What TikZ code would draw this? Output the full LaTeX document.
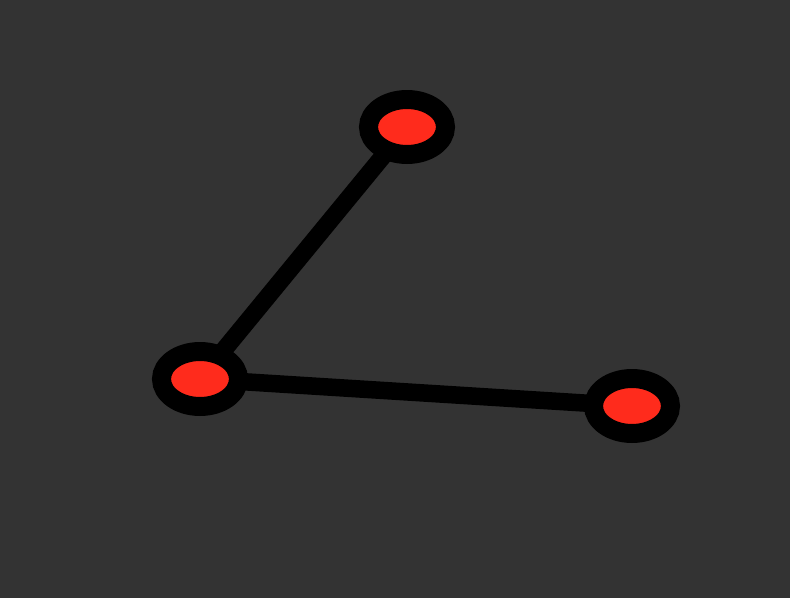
\documentclass[tikz,border=0pt]{standalone}
\usetikzlibrary{shapes.geometric, backgrounds}
\definecolor{zbg}{RGB}{51, 51, 51}
\definecolor{zdot}{RGB}{255, 43, 28}
\pgfdeclarelayer{canvas}
\pgfsetlayers{canvas,background,main}

\begin{document}
\begin{tikzpicture}[
  x=0.02cm, y=-0.02cm,
  dotnode/.style={ellipse, draw=black, fill=zdot, line width=0.38cm,
                  minimum width=1.54cm, minimum height=1.1cm, inner sep=0pt},
  link/.style={draw=black, line width=0.35cm}
]

% Background and frame
\begin{pgfonlayer}{canvas}
  \fill[zbg] (0,0) rectangle (790,598);
\end{pgfonlayer}
\useasboundingbox (0,0) rectangle (790,598);

% Points
\node[dotnode] (top)   at (407,127) {};
\node[dotnode] (left)  at (200,379) {};
\node[dotnode] (right) at (632,406) {};

% Links behind the points
\begin{scope}[on background layer]
  \draw[link] (left.center) -- (top.center);
  \draw[link] (left.center) -- (right.center);
\end{scope}

\end{tikzpicture}
\end{document}
